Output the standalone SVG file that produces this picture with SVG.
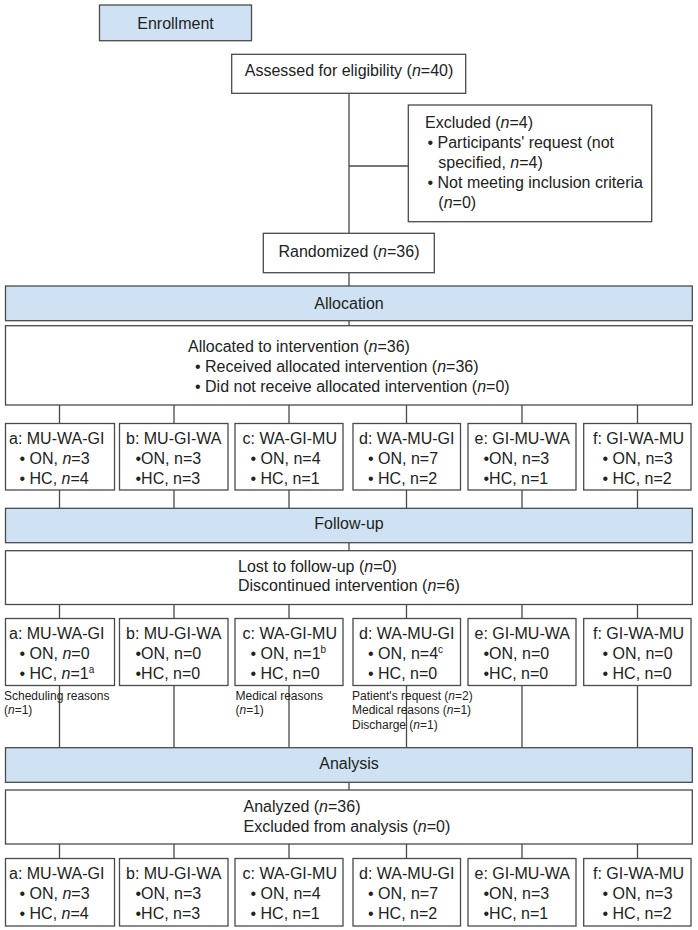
<svg xmlns="http://www.w3.org/2000/svg" width="698" height="930" viewBox="0 0 698 930">
<style>
.box{fill:#fff;stroke:#4a4a4a;stroke-width:1.3}
.bar{fill:#cfe2f3;stroke:#4a4a4a;stroke-width:1.3}
.ln{stroke:#4a4a4a;stroke-width:1.3;fill:none}
text{font-family:"Liberation Sans",Arial,sans-serif;font-size:16px;fill:#222}
.c{text-anchor:middle}
.s{font-size:12px}
.i{font-style:italic}
.sup{font-size:10px}
</style>
<rect width="698" height="930" fill="#fff"/>
<g id="connectors">
<path class="ln" d="M349 93.3V233.3M349 166H408.3M349 272.7V286M349 320.7V325.7"/>
<path class="ln" d="M59.5 405V423.5M174 405V423.5M289 405V423.5M406.5 405V423.5M522 405V423.5M637.5 405V423.5"/>
<path class="ln" d="M59.5 490V508.3M174 490V508.3M289 490V508.3M406.5 490V508.3M522 490V508.3M637.5 490V508.3"/>
<path class="ln" d="M349 542.7V550.7"/>
<path class="ln" d="M59.5 604.5V618.5M174 604.5V618.5M289 604.5V618.5M406.5 604.5V618.5M522 604.5V618.5M637.5 604.5V618.5"/>
<path class="ln" d="M59.5 685.5V747.7M174 685.5V747.7M289 685.5V747.7M406.5 685.5V747.7M522 685.5V747.7M637.5 685.5V747.7"/>
<path class="ln" d="M349 782.3V790"/>
<path class="ln" d="M59.5 844V858.5M174 844V858.5M289 844V858.5M406.5 844V858.5M522 844V858.5M637.5 844V858.5"/>
</g>
<g id="enrollment"><rect class="bar" x="99.5" y="5" width="152" height="35.7"/><text class="c" x="175.5" y="28.5">Enrollment</text></g>
<g id="assessed"><rect class="box" x="231.7" y="54.3" width="234" height="39"/><text class="c" x="349" y="75.5">Assessed for eligibility (<tspan class="i">n</tspan>=40)</text></g>
<g id="excluded"><rect class="box" x="408.3" y="105" width="243.4" height="116.7"/>
<text x="425" y="127.7">Excluded (<tspan class="i">n</tspan>=4)</text>
<text x="427.5" y="148">• Participants' request (not</text>
<text x="438.3" y="168">specified, <tspan class="i">n</tspan>=4)</text>
<text x="427.5" y="188">• Not meeting inclusion criteria</text>
<text x="438.3" y="208">(<tspan class="i">n</tspan>=0)</text></g>
<g id="randomized"><rect class="box" x="263.3" y="233.3" width="171" height="39.4"/><text class="c" x="349" y="257">Randomized (<tspan class="i">n</tspan>=36)</text></g>
<g id="allocation"><rect class="bar" x="5.5" y="286" width="686.8" height="34.7"/><text class="c" x="349" y="308.5">Allocation</text></g>
<g id="allocated"><rect class="box" x="5.5" y="325.7" width="686.8" height="79.3"/>
<text x="188" y="351.5">Allocated to intervention (<tspan class="i">n</tspan>=36)</text>
<text x="195" y="371.5">• Received allocated intervention (<tspan class="i">n</tspan>=36)</text>
<text x="195" y="391.5">• Did not receive allocated intervention (<tspan class="i">n</tspan>=0)</text></g>
<g id="alloc-a"><rect class="box" x="5.5" y="423.5" width="109" height="66.5"/><text x="9" y="443.5">a: MU-WA-GI</text><text x="19.5" y="463.5">• ON, <tspan class="i">n</tspan>=3</text><text x="19.5" y="483.5">• HC, <tspan class="i">n</tspan>=4</text></g>
<g id="alloc-b"><rect class="box" x="119.5" y="423.5" width="108.5" height="66.5"/><text x="126" y="443.5">b: MU-GI-WA</text><text x="135.5" y="463.5">•ON, n=3</text><text x="135.5" y="483.5">•HC, n=3</text></g>
<g id="alloc-c"><rect class="box" x="235" y="423.5" width="108" height="66.5"/><text x="242.5" y="443.5">c: WA-GI-MU</text><text x="250.5" y="463.5">• ON, n=4</text><text x="250.5" y="483.5">• HC, n=1</text></g>
<g id="alloc-d"><rect class="box" x="353" y="423.5" width="107.5" height="66.5"/><text x="359" y="443.5">d: WA-MU-GI</text><text x="368" y="463.5">• ON, n=7</text><text x="368" y="483.5">• HC, n=2</text></g>
<g id="alloc-e"><rect class="box" x="468" y="423.5" width="108" height="66.5"/><text x="474.5" y="443.5">e: GI-MU-WA</text><text x="483.5" y="463.5">•ON, n=3</text><text x="483.5" y="483.5">•HC, n=1</text></g>
<g id="alloc-f"><rect class="box" x="583.7" y="423.5" width="107.3" height="66.5"/><text x="593" y="443.5">f: GI-WA-MU</text><text x="602.5" y="463.5">• ON, n=3</text><text x="602.5" y="483.5">• HC, n=2</text></g>
<g id="followup"><rect class="bar" x="5.5" y="508.3" width="686.8" height="34.4"/><text class="c" x="349" y="529">Follow-up</text></g>
<g id="lost"><rect class="box" x="5.5" y="550.7" width="686.8" height="53.8"/>
<text x="238" y="571.7">Lost to follow-up (<tspan class="i">n</tspan>=0)</text>
<text x="238" y="590.5">Discontinued intervention (<tspan class="i">n</tspan>=6)</text></g>
<g id="fu-a"><rect class="box" x="5.5" y="618.5" width="109" height="67"/><text x="9" y="638.5">a: MU-WA-GI</text><text x="19.5" y="658.5">• ON, <tspan class="i">n</tspan>=0</text><text x="19.5" y="678.5">• HC, <tspan class="i">n</tspan>=1<tspan class="sup" dy="-6">a</tspan></text></g>
<g id="fu-b"><rect class="box" x="119.5" y="618.5" width="108.5" height="67"/><text x="126" y="638.5">b: MU-GI-WA</text><text x="135.5" y="658.5">•ON, n=0</text><text x="135.5" y="678.5">•HC, n=0</text></g>
<g id="fu-c"><rect class="box" x="235" y="618.5" width="108" height="67"/><text x="242.5" y="638.5">c: WA-GI-MU</text><text x="250.5" y="658.5">• ON, n=1<tspan class="sup" dy="-6">b</tspan></text><text x="250.5" y="678.5">• HC, n=0</text></g>
<g id="fu-d"><rect class="box" x="353" y="618.5" width="107.5" height="67"/><text x="359" y="638.5">d: WA-MU-GI</text><text x="368" y="658.5">• ON, n=4<tspan class="sup" dy="-6">c</tspan></text><text x="368" y="678.5">• HC, n=0</text></g>
<g id="fu-e"><rect class="box" x="468" y="618.5" width="108" height="67"/><text x="474.5" y="638.5">e: GI-MU-WA</text><text x="483.5" y="658.5">•ON, n=0</text><text x="483.5" y="678.5">•HC, n=0</text></g>
<g id="fu-f"><rect class="box" x="583.7" y="618.5" width="107.3" height="67"/><text x="593" y="638.5">f: GI-WA-MU</text><text x="602.5" y="658.5">• ON, n=0</text><text x="602.5" y="678.5">• HC, n=0</text></g>
<g id="note-a"><text class="s" x="4" y="699.5">Scheduling reasons</text><text class="s" x="4" y="714">(<tspan class="i">n</tspan>=1)</text></g>
<g id="note-c"><text class="s" x="235.5" y="699.5">Medical reasons</text><text class="s" x="235.5" y="714">(<tspan class="i">n</tspan>=1)</text></g>
<g id="note-d"><text class="s" x="352" y="699.5">Patient's request (<tspan class="i">n</tspan>=2)</text><text class="s" x="352" y="714">Medical reasons (<tspan class="i">n</tspan>=1)</text><text class="s" x="352" y="728.5">Discharge (<tspan class="i">n</tspan>=1)</text></g>
<g id="analysis"><rect class="bar" x="5.5" y="747.7" width="686.8" height="34.6"/><text class="c" x="349" y="769">Analysis</text></g>
<g id="analyzed"><rect class="box" x="5.5" y="790" width="686.8" height="54"/>
<text x="243.5" y="812.3">Analyzed (<tspan class="i">n</tspan>=36)</text>
<text x="243.5" y="831.7">Excluded from analysis (<tspan class="i">n</tspan>=0)</text></g>
<g id="an-a"><rect class="box" x="5.5" y="858.5" width="109" height="67.5"/><text x="9" y="878.5">a: MU-WA-GI</text><text x="19.5" y="898.5">• ON, <tspan class="i">n</tspan>=3</text><text x="19.5" y="918.5">• HC, <tspan class="i">n</tspan>=4</text></g>
<g id="an-b"><rect class="box" x="119.5" y="858.5" width="108.5" height="67.5"/><text x="126" y="878.5">b: MU-GI-WA</text><text x="135.5" y="898.5">•ON, n=3</text><text x="135.5" y="918.5">•HC, n=3</text></g>
<g id="an-c"><rect class="box" x="235" y="858.5" width="108" height="67.5"/><text x="242.5" y="878.5">c: WA-GI-MU</text><text x="250.5" y="898.5">• ON, n=4</text><text x="250.5" y="918.5">• HC, n=1</text></g>
<g id="an-d"><rect class="box" x="353" y="858.5" width="107.5" height="67.5"/><text x="359" y="878.5">d: WA-MU-GI</text><text x="368" y="898.5">• ON, n=7</text><text x="368" y="918.5">• HC, n=2</text></g>
<g id="an-e"><rect class="box" x="468" y="858.5" width="108" height="67.5"/><text x="474.5" y="878.5">e: GI-MU-WA</text><text x="483.5" y="898.5">•ON, n=3</text><text x="483.5" y="918.5">•HC, n=1</text></g>
<g id="an-f"><rect class="box" x="583.7" y="858.5" width="107.3" height="67.5"/><text x="593" y="878.5">f: GI-WA-MU</text><text x="602.5" y="898.5">• ON, n=3</text><text x="602.5" y="918.5">• HC, n=2</text></g>
</svg>
